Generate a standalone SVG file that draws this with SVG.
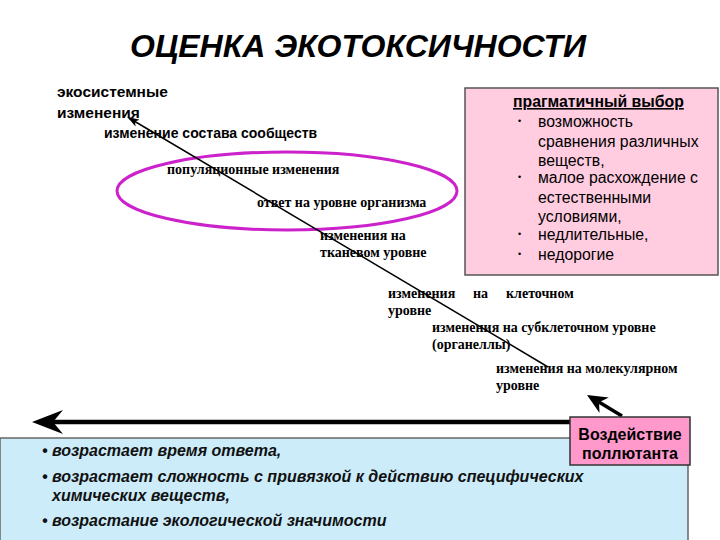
<svg xmlns="http://www.w3.org/2000/svg" width="720" height="540" viewBox="0 0 720 540">
<defs>
<style>
.sans{font-family:"Liberation Sans",Arial,sans-serif;font-weight:bold;fill:#000}
.serif{font-family:"Liberation Serif","Times New Roman",serif;font-weight:bold;font-size:14px;fill:#000}
.pr{font-family:"Liberation Sans",Arial,sans-serif;font-size:15.8px;fill:#000}
.dot{font-family:"Liberation Sans",Arial,sans-serif;font-size:9px;fill:#000}
.bl{font-family:"Liberation Sans",Arial,sans-serif;font-style:italic;font-weight:bold;font-size:16px;fill:#111}
</style>
<marker id="big" viewBox="0 0 31 24" refX="18" refY="12" markerWidth="31" markerHeight="24" orient="auto" markerUnits="userSpaceOnUse">
<path d="M31,12 L0,0 L10,12 L0,24 Z" fill="#000"/>
</marker>
<marker id="mid" viewBox="0 0 20 18" refX="10" refY="9" markerWidth="20" markerHeight="18" orient="auto" markerUnits="userSpaceOnUse">
<path d="M20,9 L0,0 L6,9 L0,18 Z" fill="#000"/>
</marker>
<marker id="thin" viewBox="0 0 12 8" refX="10" refY="4" markerWidth="12" markerHeight="8" orient="auto" markerUnits="userSpaceOnUse">
<path d="M12,4 L0,0 L3,4 L0,8 Z" fill="#000"/>
</marker>
</defs>
<rect width="720" height="540" fill="#fff"/>

<text x="130" y="57" class="sans" font-style="italic" font-size="32">ОЦЕНКА ЭКОТОКСИЧНОСТИ</text>

<g id="ellipse-group">
<ellipse cx="287" cy="191" rx="170" ry="39" fill="none" stroke="#cc22cc" stroke-width="3"/>
</g>

<g id="pragmatic">
<rect x="465" y="88" width="253" height="187" fill="#ffcce0" stroke="#555" stroke-width="1.5"/>
<text x="513" y="107" class="pr" font-weight="bold" font-size="16.1" text-decoration="underline">прагматичный выбор</text>
<g class="dot">
<text x="518" y="124">•</text>
<text x="518" y="180">•</text>
<text x="518" y="237">•</text>
<text x="518" y="257">•</text>
</g>
<g class="pr">
<text x="538" y="127">возможность</text>
<text x="538" y="147">сравнения различных</text>
<text x="538" y="166">веществ,</text>
<text x="538" y="183">малое расхождение с</text>
<text x="538" y="203">естественными</text>
<text x="538" y="222">условиями,</text>
<text x="538" y="240">недлительные,</text>
<text x="538" y="260">недорогие</text>
</g>
</g>

<g id="levels">
<text x="57" y="97" class="sans" font-size="15.5">экосистемные</text>
<text x="57" y="118" class="sans" font-size="15.5">изменения</text>
<text x="104" y="138" class="sans" font-size="14">изменение состава сообществ</text>
<text x="167" y="174" class="serif">популяционные изменения</text>
<text x="257" y="207" class="serif">ответ на уровне организма</text>
<text x="320" y="240" class="serif">изменения на</text>
<text x="320" y="257" class="serif">тканевом уровне</text>
<text y="298" class="serif"><tspan x="388">изменения</tspan><tspan x="473">на</tspan><tspan x="506">клеточном</tspan></text>
<text x="388" y="315" class="serif">уровне</text>
<text x="432" y="332" class="serif">изменения на субклеточном уровне</text>
<text x="432" y="349" class="serif">(органеллы)</text>
<text x="496" y="373" class="serif">изменения на молекулярном</text>
<text x="496" y="390" class="serif">уровне</text>
</g>

<g id="connectors">
<line x1="548" y1="367" x2="129" y2="118" stroke="#000" stroke-width="1.5" marker-end="url(#thin)"/>
<line x1="575" y1="422" x2="45" y2="422" stroke="#000" stroke-width="4.5" marker-end="url(#big)"/>
<line x1="622" y1="416" x2="595.6" y2="400.1" stroke="#000" stroke-width="3.5" marker-end="url(#mid)"/>
</g>

<g id="summary">
<rect x="0" y="438" width="688" height="104" fill="#ccecfa" stroke="#666" stroke-width="1.5"/>
<g class="bl">
<text x="42" y="456">• возрастает время ответа,</text>
<text x="42" y="482">• возрастает сложность с привязкой к действию специфических</text>
<text x="52" y="501">химических веществ,</text>
<text x="42" y="526">• возрастание экологической значимости</text>
</g>
</g>

<g id="pollutant">
<rect x="570" y="417" width="120" height="48" fill="#ff99cc" stroke="#333" stroke-width="1.5"/>
<text x="630" y="440" class="sans" font-size="16" text-anchor="middle">Воздействие</text>
<text x="630" y="459" class="sans" font-size="16" text-anchor="middle">поллютанта</text>
</g>
</svg>
